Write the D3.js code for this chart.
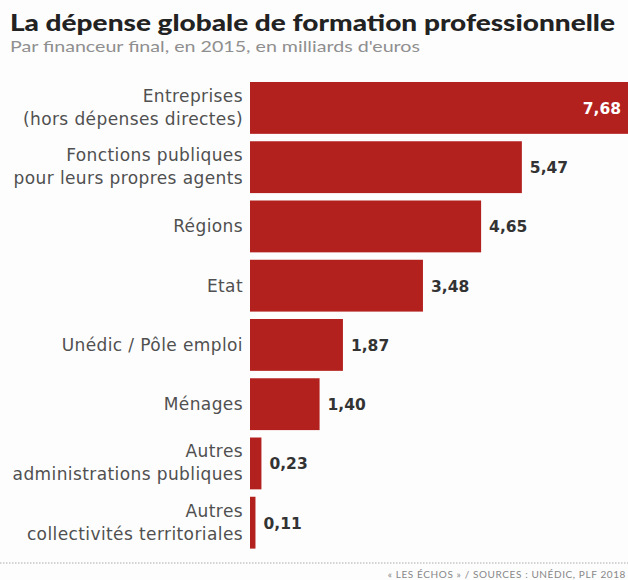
<!DOCTYPE html>
<html>
<head>
<meta charset="utf-8">
<script src="https://cdn.jsdelivr.net/npm/d3@7"></script>
<style>
  body { margin: 0; background: #fdfdfd; }
  svg { display: block; }
</style>
</head>
<body>
<div id="chart"></div>
<script>
// data
var categories = [
    ["Entreprises", "(hors dépenses directes)"],
    ["Fonctions publiques", "pour leurs propres agents"],
    ["Régions"],
    ["Etat"],
    ["Unédic / Pôle emploi"],
    ["Ménages"],
    ["Autres", "administrations publiques"],
    ["Autres", "collectivités territoriales"]
]
var values = [7.68, 5.47, 4.65, 3.48, 1.87, 1.40, 0.23, 0.11]
var valueLabels = ["7,68", "5,47", "4,65", "3,48", "1,87", "1,40", "0,23", "0,11"]

var width = 628, height = 580
var red = "#b3211f"
var labelFont = "'DejaVu Sans', sans-serif"

var svg = d3.select("#chart").append("svg")
    .attr("width", width)
    .attr("height", height)

svg.append("rect").attr("width", width).attr("height", height).attr("fill", "#fdfdfd")

// title + subtitle
svg.append("text")
    .attr("x", 10).attr("y", 31)
    .attr("font-family", "Lato, sans-serif")
    .attr("font-weight", 900)
    .attr("font-size", 23)
    .attr("fill", "#222")
    .attr("textLength", 605)
    .attr("lengthAdjust", "spacingAndGlyphs")
    .text("La dépense globale de formation professionnelle")

svg.append("text")
    .attr("x", 10).attr("y", 52)
    .attr("font-family", "Lato, sans-serif")
    .attr("font-size", 15)
    .attr("fill", "#8f8f8f")
    .attr("textLength", 410)
    .attr("lengthAdjust", "spacingAndGlyphs")
    .text("Par financeur final, en 2015, en milliards d'euros")

var x = d3.scaleLinear()
    .domain([0, 1])
    .range([250, 299.7])

var y = d3.scaleBand()
    .domain(d3.range(values.length))
    .range([82, 548.6])
    .paddingInner(0.125)
    .paddingOuter(0)

var g = svg.append("g")

g.selectAll("rect.bar")
    .data(values)
    .enter()
    .append("rect")
    .attr("class", "bar")
    .attr("x", x(0))
    .attr("y", (d, i) => y(i))
    .attr("width", d => x(d) - x(0))
    .attr("height", y.bandwidth())
    .attr("fill", red)

// category labels
var lab = g.selectAll("text.cat")
    .data(categories)
    .enter()
    .append("text")
    .attr("class", "cat")
    .attr("text-anchor", "end")
    .attr("font-family", labelFont)
    .attr("font-size", 17)
    .attr("letter-spacing", 0.4)
    .attr("fill", "#505050")

lab.each(function (d, i) {
    var c = y(i) + y.bandwidth() / 2
    var t = d3.select(this)
    if (d.length === 1) {
        t.append("tspan").attr("x", 243).attr("y", c + 6).text(d[0])
    } else {
        t.append("tspan").attr("x", 243).attr("y", c - 6).text(d[0])
        t.append("tspan").attr("x", 243).attr("y", c + 17).text(d[1])
    }
})

// value labels
g.selectAll("text.val")
    .data(values)
    .enter()
    .append("text")
    .attr("class", "val")
    .attr("font-family", labelFont)
    .attr("font-weight", 700)
    .attr("font-size", 15.5)
    .attr("x", (d, i) => i === 0 ? 621 : x(d) + 8)
    .attr("y", (d, i) => y(i) + y.bandwidth() / 2 + 6)
    .attr("text-anchor", (d, i) => i === 0 ? "end" : "start")
    .attr("fill", (d, i) => i === 0 ? "#fff" : "#333")
    .text((d, i) => valueLabels[i])

// footer
svg.append("line")
    .attr("x1", 0).attr("x2", width)
    .attr("y1", 563).attr("y2", 563)
    .attr("stroke", "#aaa")
    .attr("stroke-width", 1)
    .attr("stroke-dasharray", "1.5,1.5")

svg.append("text")
    .attr("x", 626).attr("y", 578)
    .attr("text-anchor", "end")
    .attr("font-family", "Lato, sans-serif")
    .attr("font-size", 10)
    .attr("letter-spacing", 0.6)
    .attr("fill", "#888")
    .text("« LES ÉCHOS » / SOURCES : UNÉDIC, PLF 2018")
</script>
</body>
</html>
